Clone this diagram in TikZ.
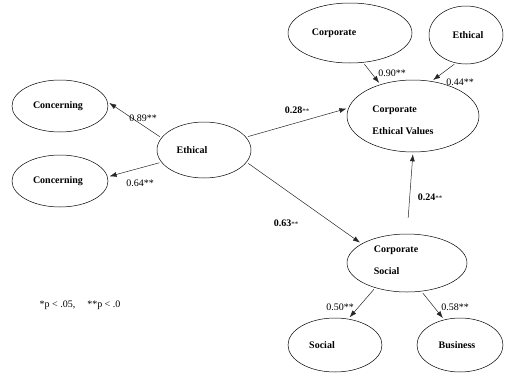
\documentclass[tikz,border=0pt]{standalone}
\usepackage{fontspec}
\setmainfont{Liberation Serif}
\usetikzlibrary{shapes.geometric, arrows.meta}

\begin{document}
\begin{tikzpicture}[x=1pt, y=-1pt,
  var/.style = {draw, ellipse, inner sep=0pt, line width=.5pt},
  vtxt/.style = {font=\fontsize{10}{12}\selectfont\bfseries, align=left, inner sep=0pt},
  coef/.style = {font=\fontsize{10}{12}\selectfont, inner sep=0pt},
  arr/.style = {-{Latex[length=7pt, width=5pt]}, line width=.5pt, draw=black!85, shorten <=2pt, shorten >=2pt}]
\useasboundingbox (0,0) rectangle (531,378);
\node[var, minimum width=96pt, minimum height=52pt, label={[vtxt, xshift=-2pt]center:Concerning}] (c1) at (60,106) {};
\node[var, minimum width=96pt, minimum height=52pt, label={[vtxt, xshift=-2pt]center:Concerning}] (c2) at (60,181) {};
\node[var, minimum width=94pt, minimum height=56pt, label={[vtxt, xshift=-12pt]center:Ethical}] (eth) at (204,150) {};
\node[var, minimum width=124pt, minimum height=60pt, label={[vtxt, xshift=-16pt]center:Corporate}] (corp) at (350,33) {};
\node[var, minimum width=74pt, minimum height=58pt, label={[vtxt, xshift=2pt]center:Ethical}] (eth2) at (466,35) {};
\node[var, minimum width=132pt, minimum height=72pt, label={[vtxt, xshift=-10pt, yshift=-4pt]center:Corporate\\[10pt]Ethical Values}] (cev) at (413,116) {};
\node[var, minimum width=120pt, minimum height=58pt, label={[vtxt, xshift=-11pt, yshift=3pt]center:Corporate\\[10pt]Social}] (cs) at (407,263) {};
\node[var, minimum width=94pt, minimum height=54pt, label={[vtxt, xshift=-13pt]center:Social}] (soc) at (335,345) {};
\node[var, minimum width=86pt, minimum height=54pt, label={[vtxt, xshift=-3pt]center:Business}] (bus) at (460,345) {};

\node[coef] (l89) at (143,118) {0.89**};
\node[coef] (l64) at (140,183) {0.64**};
\node[coef] (l28) at (297,110) {\textbf{0.28}{\scriptsize**}};
\node[coef] (l90) at (392,73) {0.90**};
\node[coef] (l44) at (460,82) {0.44**};
\node[coef] (l24) at (430,197) {\textbf{0.24}{\scriptsize**}};
\node[coef] (l63) at (286,223) {\textbf{0.63}{\scriptsize**}};
\node[coef] (l50) at (340,307) {0.50**};
\node[coef] (l58) at (455,307) {0.58**};
\node[coef] (note) at (80,305) {*p < .05,\hspace{12pt}**p < .0};

\draw[arr] (eth.164) -- (c1.5);
\draw[arr] (eth.196) -- (c2.5);
\draw[arr] (eth.17) -- (cev.173);
\draw[arr] (eth.344) -- (cs.157);
\draw[arr, shorten <=16pt] (cs.north) -- (cev.south);
\draw[arr] (corp.294) -- (cev.136);
\draw[arr] (eth2.250) -- (cev.62);
\draw[arr] (cs.218) -- (soc.63);
\draw[arr] (cs.297) -- (bus.122);
\end{tikzpicture}
\end{document}
